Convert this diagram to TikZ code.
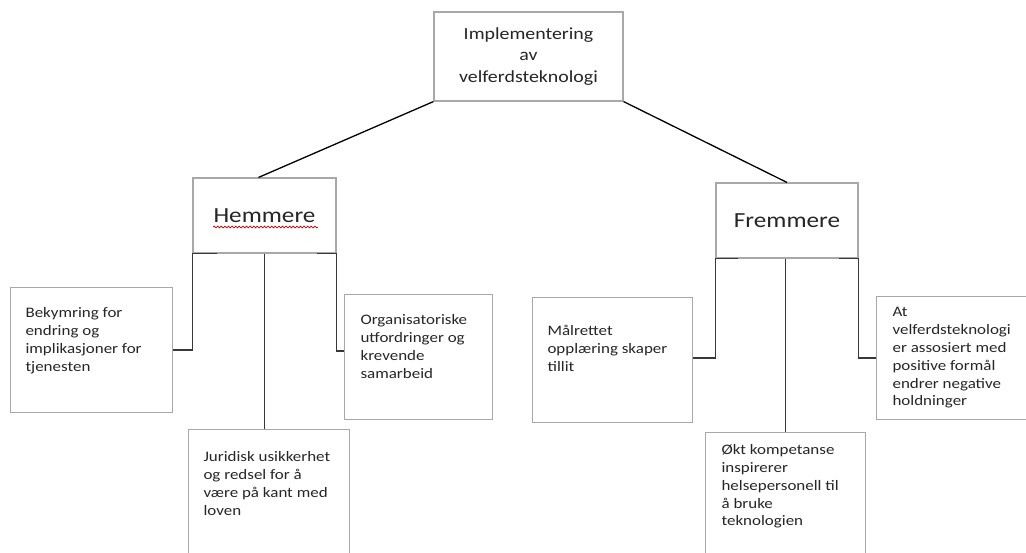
\documentclass[tikz,border=0pt]{standalone}
\usepackage{fontspec}
\setmainfont{Carlito}[FakeStretch=1.17]
\usetikzlibrary{positioning,decorations.pathmorphing}
\definecolor{boxgray}{HTML}{A8A8A8}
\definecolor{linedark}{HTML}{383838}
\definecolor{textdark}{HTML}{262626}
\hyphenpenalty=10000
\exhyphenpenalty=10000
\newcommand{\celltext}[3]{\parbox[t][#1][t]{#2}{\raggedright #3}}

\begin{document}
\begin{tikzpicture}[
  x=1pt, y=-1pt,
  box/.style={draw=boxgray, line width=1.1pt, text=textdark, inner ysep=0pt},
  small/.style={box, anchor=north west, font=\fontsize{14.5}{17.8}\selectfont},
  head/.style={box, align=center, font=\fontsize{21.5}{25}\selectfont,
    minimum width=143pt, minimum height=75pt},
  conn/.style={draw=linedark, line width=1.8pt},
  tie/.style={draw=black, line width=1.3pt},
  spell/.style={draw=red!80!black, line width=0.7pt, decorate,
    decoration={snake, amplitude=0.9pt, segment length=3.6pt}}
  ]
  \path[use as bounding box, fill=white] (0,0) rectangle (1026,552);

  \node[box, align=center, font=\fontsize{17}{21.5}\selectfont,
    minimum width=189pt, minimum height=89pt] (impl) at (528.5,56.5)
    {Implementering\\av\\velferdsteknologi};

  \node[head] (hem) at (264.5,215.5) {Hemmere};
  \node[head, minimum width=142pt] (frem) at (787,220.5) {Fremmere};

  \node[small, inner xsep=15pt, inner ysep=20pt] (bek) at (10,287)
    {\celltext{85pt}{132pt}{Bekymring for\\endring og\\implikasjoner for\\tjenesten}};
  \node[small, inner xsep=15pt, inner ysep=22pt] (jur) at (188,429)
    {\celltext{150pt}{131pt}{Juridisk usikkerhet\\og redsel for å\\være på kant med\\loven}};
  \node[small, inner xsep=16pt, inner ysep=20pt] (org) at (344,294)
    {\celltext{85pt}{116pt}{Organisatoriske\\utfordringer og\\krevende\\samarbeid}};

  \node[small, inner xsep=15pt, inner ysep=28pt] (mal) at (532,297)
    {\celltext{69pt}{130pt}{Målrettet\\opplæring skaper\\tillit}};
  \node[small, inner xsep=16pt, inner ysep=12pt] (okt) at (705,432)
    {\celltext{150pt}{128pt}{Økt kompetanse\\inspirerer\\helsepersonell til\\å bruke\\teknologien}};
  \node[small, inner xsep=16pt, inner ysep=11pt] (assoc) at (876,296)
    {\celltext{101pt}{122pt}{At\\velferdsteknologi\\er assosiert med\\positive formål\\endrer negative\\holdninger}};

  \draw[tie] (impl.south west) -- ([xshift=-6pt]hem.north);
  \draw[tie] (impl.south east) -- (frem.north);

  \draw[conn] ([xshift=25pt]hem.south west) -- (hem.south west) |- (bek.east);
  \draw[conn] (hem.south) -- (hem.south |- jur.north);
  \draw[conn] ([xshift=-20pt]hem.south east) -- (hem.south east) |- ([yshift=6pt]org.west);

  \draw[conn] ([xshift=23pt]frem.south west) -- (frem.south west) |- ([yshift=2pt]mal.east);
  \draw[conn] (okt.north |- frem.south) -- (okt.north);
  \draw[conn] ([xshift=-20pt]frem.south east) -- (frem.south east) |- (assoc.west);

  \draw[spell] (213,227) -- (318,227);
\end{tikzpicture}
\end{document}
